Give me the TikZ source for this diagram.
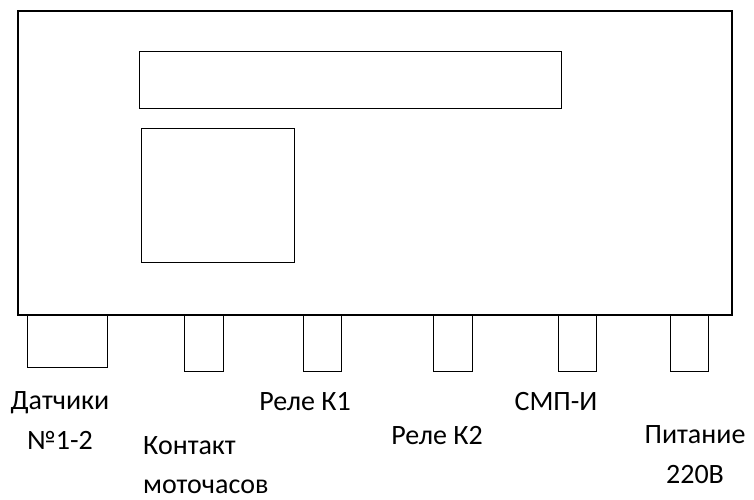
\documentclass[tikz,border=0pt]{standalone}
\usepackage{fontspec}
\setmainfont{Carlito}
\begin{document}
\begin{tikzpicture}[x=1pt, y=-1pt,
  box/.style={draw, line width=1.6pt, inner sep=0pt, anchor=north west},
  plug/.style={draw, line width=1.3pt, inner sep=0pt, anchor=north west},
  lbl/.style={font=\fontsize{28}{40}\selectfont, inner sep=0pt, align=center}]
\useasboundingbox (0,0) rectangle (754,499);
% housing with display and keypad
\node [box, minimum width=714pt, minimum height=304pt] (body) at (17,10) {};
\node [box, line width=1.4pt, minimum width=422pt, minimum height=57pt] (screen) at (139,51) {};
\node [box, line width=1.4pt, minimum width=153pt, minimum height=134pt] (keys) at (141,128) {};
% connectors under the housing
\node [plug, minimum width=80pt, minimum height=53pt] (sens) at (27,314) {};
\node [plug, minimum width=39pt, minimum height=57pt] (hours) at (184,314) {};
\node [plug, minimum width=38pt, minimum height=57pt] (relone) at (303,314) {};
\node [plug, minimum width=39pt, minimum height=57pt] (reltwo) at (433,314) {};
\node [plug, minimum width=38pt, minimum height=57pt] (smp) at (558,314) {};
\node [plug, minimum width=38pt, minimum height=57pt] (power) at (670,314) {};
% labels
\node [lbl] (sensl) at (60,421) {Датчики\\№1-2};
\node [lbl, align=left, anchor=west, font=\fontsize{28}{39}\selectfont] (hoursl) at (143,465) {Контакт\\моточасов};
\node [lbl] (relonel) at (305,402) {Реле К1};
\node [lbl] (reltwol) at (437,435) {Реле К2};
\node [lbl] (smpl) at (556,401) {СМП-И};
\node [lbl] (powerl) at (695,455) {Питание\\220В};
\end{tikzpicture}
\end{document}
